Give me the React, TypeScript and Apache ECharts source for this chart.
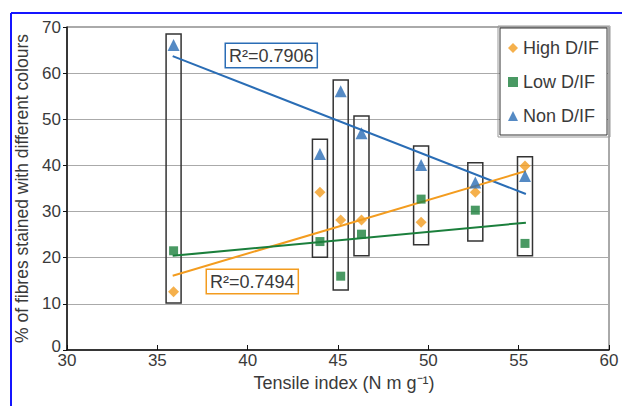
import React, { useEffect, useRef } from "react";
import * as echarts from "echarts";

const tensile = [35.9, 44.0, 45.15, 46.3, 49.6, 52.6, 55.35];
const highDIF = [12.6, 34.2, 28.2, 28.2, 27.7, 34.2, 39.9];
const lowDIF = [21.5, 23.5, 16.0, 25.1, 32.7, 30.3, 23.1];
const nonDIF = [66.1, 42.5, 56.1, 47.0, 40.1, 36.3, 37.7];
const boxLow = [10.2, 20.1, 13.0, 20.4, 22.8, 23.6, 20.4];
const boxHigh = [68.5, 45.7, 58.5, 50.7, 44.2, 40.6, 41.9];
const trendX = [35.85, 55.4];
const highTrend = [16.1, 38.8];
const lowTrend = [20.4, 27.6];
const nonTrend = [63.7, 33.8];
const seriesNames = ["High D/IF", "Low D/IF", "Non D/IF"];
const r2Labels = ["R²=0.7906", "R²=0.7494"];

const ORANGE = "#f39c1f";
const GREEN = "#1b7f3c";
const BLUE = "#2a6db5";
const FONT = "Liberation Sans, Arial, sans-serif";
const TXT = "#3a3a3a";

export default function App() {
  const ref = useRef<HTMLDivElement>(null);
  useEffect(() => {
    if (!ref.current) return;
    const chart = echarts.init(ref.current, null, { renderer: "svg" });
    const pts = (ys: number[]) => tensile.map((x, i) => [x, ys[i]]);
    const trend = (ys: number[]) => trendX.map((x, i) => [x, ys[i]]);
    chart.setOption({
      animation: false,
      backgroundColor: "#fff",
      textStyle: { fontFamily: FONT },
      grid: {
        left: 67,
        right: 13,
        top: 27,
        bottom: 56,
        show: true,
        borderColor: "#555",
        borderWidth: 1,
      },
      xAxis: {
        type: "value",
        min: 30,
        max: 60,
        interval: 5,
        name: "Tensile index (N m g⁻¹)",
        nameLocation: "middle",
        nameGap: 23,
        nameTextStyle: { fontSize: 18, color: TXT, fontFamily: FONT, padding: [0, 0, 0, 12] },
        axisLine: { lineStyle: { color: "#111", width: 1.5 } },
        axisTick: { inside: true, length: 5, lineStyle: { color: "#111" } },
        axisLabel: { fontSize: 17, color: TXT, margin: 2, fontFamily: FONT },
        splitLine: { show: false },
      },
      yAxis: {
        type: "value",
        min: 0,
        max: 70,
        interval: 10,
        name: "% of fibres stained with different colours",
        nameLocation: "middle",
        nameGap: 32,
        nameTextStyle: { fontSize: 17.5, color: TXT, fontFamily: FONT },
        axisLine: { show: true, lineStyle: { color: "#111", width: 1.5 } },
        axisTick: { show: true, length: 4, lineStyle: { color: "#111" } },
        axisLabel: {
          fontSize: 17,
          color: TXT,
          margin: 6,
          fontFamily: FONT,
          formatter: (v: number) => (v === 0 ? "{z|0}" : String(v)),
          rich: { z: { fontSize: 17, color: TXT, fontFamily: FONT, padding: [0, 0, 8, 0] } },
        },
        splitLine: { lineStyle: { color: "#aaa", width: 1 } },
      },
      legend: {
        data: seriesNames,
        orient: "vertical",
        left: 500,
        top: 28,
        padding: [11, 8, 10, 8],
        itemGap: 16,
        itemWidth: 10,
        itemHeight: 10,
        backgroundColor: "#fff",
        borderColor: "#333",
        borderWidth: 1,
        textStyle: { fontSize: 18, color: TXT, fontFamily: FONT },
      },
      series: [
        {
          type: "custom",
          z: 1,
          silent: true,
          data: tensile.map((x, i) => [x, boxLow[i], boxHigh[i]]),
          renderItem: (params: any, api: any) => {
            const top = api.coord([api.value(0), api.value(2)]);
            const bot = api.coord([api.value(0), api.value(1)]);
            const w = 15;
            return {
              type: "rect",
              shape: { x: top[0] - w / 2, y: top[1], width: w, height: bot[1] - top[1] },
              style: { fill: "none", stroke: "#333", lineWidth: 1.5 },
            };
          },
        },
        {
          type: "line",
          data: trend(nonTrend),
          symbol: "none",
          z: 2,
          lineStyle: { color: BLUE, width: 2 },
        },
        {
          type: "line",
          data: trend(highTrend),
          symbol: "none",
          z: 2,
          lineStyle: { color: ORANGE, width: 2 },
        },
        {
          type: "line",
          data: trend(lowTrend),
          symbol: "none",
          z: 2,
          lineStyle: { color: GREEN, width: 2 },
        },
        {
          name: seriesNames[0],
          type: "scatter",
          symbol: "diamond",
          symbolSize: 11,
          z: 3,
          itemStyle: { color: ORANGE },
          data: pts(highDIF),
        },
        {
          name: seriesNames[1],
          type: "scatter",
          symbol: "rect",
          symbolSize: 9,
          z: 3,
          itemStyle: { color: GREEN },
          data: pts(lowDIF),
        },
        {
          name: seriesNames[2],
          type: "scatter",
          symbol: "triangle",
          symbolSize: 12,
          z: 3,
          itemStyle: { color: BLUE },
          data: pts(nonDIF),
        },
      ],
      graphic: [
        {
          type: "line",
          shape: { x1: 11, y1: 13, x2: 622, y2: 13 },
          style: { stroke: "#1515ff", lineWidth: 2 },
        },
        {
          type: "line",
          shape: { x1: 11, y1: 13, x2: 11, y2: 406 },
          style: { stroke: "#1515ff", lineWidth: 2 },
        },
        {
          type: "rect",
          shape: { x: 498, y: 26, width: 112, height: 111 },
          style: { fill: "none", stroke: "#999", lineWidth: 1 },
          z: 100,
        },
        {
          type: "text",
          x: 226,
          y: 44,
          z: 100,
          style: {
            text: r2Labels[0],
            fontSize: 18,
            fontFamily: FONT,
            fill: TXT,
            backgroundColor: "#fff",
            borderColor: BLUE,
            borderWidth: 1.5,
            padding: [3, 3, 2, 3],
          },
        },
        {
          type: "text",
          x: 207,
          y: 270,
          z: 100,
          style: {
            text: r2Labels[1],
            fontSize: 18,
            fontFamily: FONT,
            fill: TXT,
            backgroundColor: "#fff",
            borderColor: ORANGE,
            borderWidth: 1.5,
            padding: [3, 3, 2, 3],
          },
        },
      ],
    });
    return () => chart.dispose();
  }, []);
  return (
    <div
      ref={ref}
      style={{ position: "absolute", left: 0, top: 0, width: 622, height: 406 }}
    />
  );
}
